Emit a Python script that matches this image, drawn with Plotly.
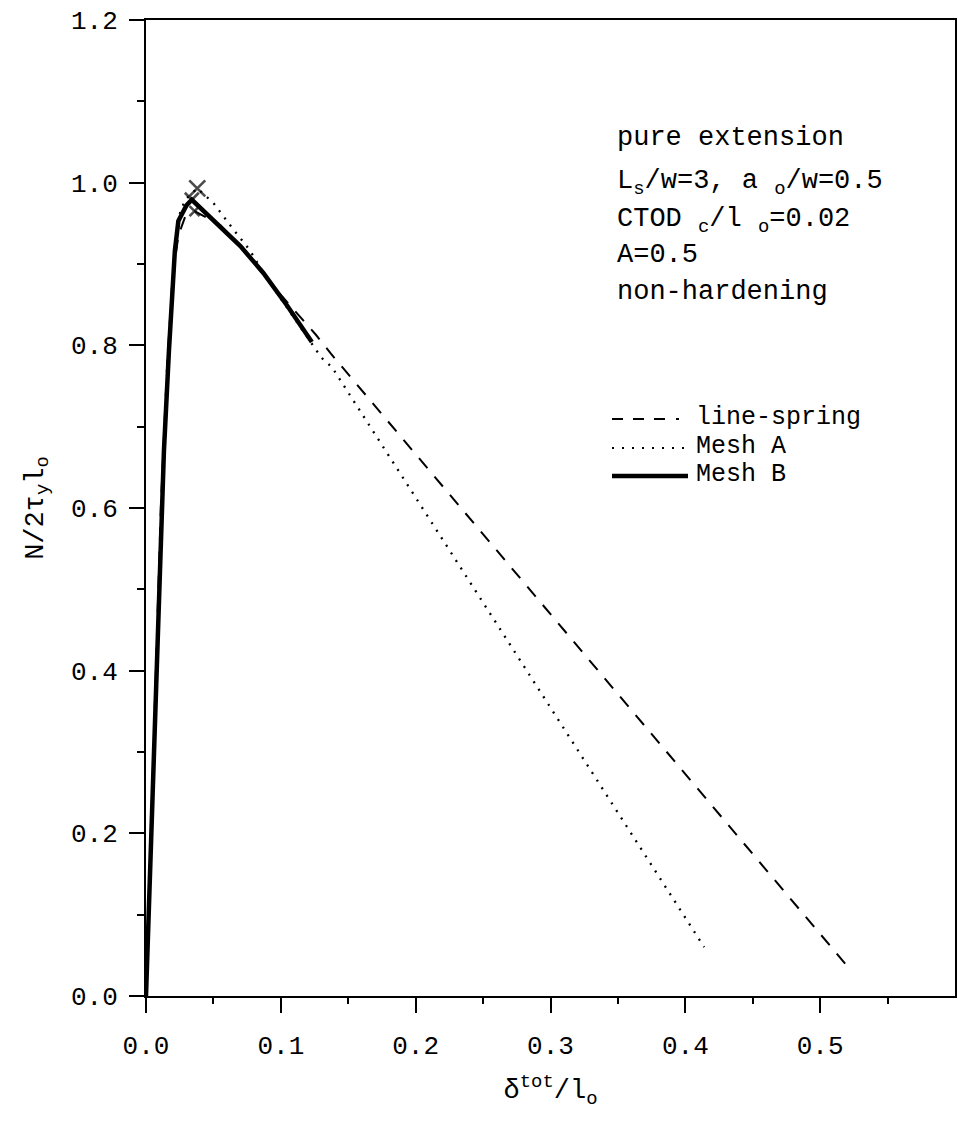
import plotly.graph_objects as go

# ---- data ----
ls_x = [0.0, 0.011, 0.0155, 0.0195, 0.024, 0.029, 0.036, 0.055, 0.080, 0.101, 0.126, 0.137, 0.521]
ls_y = [0.0, 0.60, 0.77, 0.88, 0.935, 0.958, 0.965, 0.948, 0.903, 0.860, 0.813, 0.790, 0.035]

ma_x = [0.0, 0.012, 0.017, 0.021, 0.024, 0.029, 0.038, 0.050, 0.065, 0.077, 0.089, 0.130, 0.138, 0.414]
ma_y = [0.0, 0.62, 0.80, 0.90, 0.957, 0.979, 0.993, 0.975, 0.942, 0.917, 0.884, 0.785, 0.773, 0.06]

mb_x = [0.0, 0.0074, 0.0133, 0.017, 0.0214, 0.024, 0.030, 0.034, 0.052, 0.070, 0.087, 0.105, 0.123]
mb_y = [0.0, 0.361, 0.67, 0.793, 0.916, 0.953, 0.972, 0.979, 0.951, 0.922, 0.889, 0.848, 0.804]

peak_x = [0.038, 0.034, 0.036]
peak_y = [0.993, 0.979, 0.965]
peak_size = [16, 14, 10]

x_ticks = [0.0, 0.1, 0.2, 0.3, 0.4, 0.5]
y_ticks = [0.0, 0.2, 0.4, 0.6, 0.8, 1.0, 1.2]

info_lines = [
    "pure extension",
    "L<sub>s</sub>/w=3, a <sub>o</sub>/w=0.5",
    "CTOD <sub>c</sub>/l <sub>o</sub>=0.02",
    "A=0.5",
    "non-hardening",
]
info_ypx = [138, 183, 221, 255, 292]

legend_names = ["line-spring", "Mesh A", "Mesh B"]
legend_ypx = [417, 446, 474]

FONT = "Liberation Mono, Courier New, monospace"

# plot area in pixels
L, R, T, B = 146, 955, 20, 996
W, H = 958, 1122


def px(xp):
    return (xp - L) / (R - L)


def py(yp):
    return (B - yp) / (B - T)


fig = go.Figure()
fig.add_trace(go.Scatter(x=ls_x, y=ls_y, mode="lines",
                         line=dict(color="black", width=2, dash="13px,11px"),
                         name="line-spring", showlegend=False))
fig.add_trace(go.Scatter(x=ma_x, y=ma_y, mode="lines",
                         line=dict(color="black", width=2.3, dash="2px,7px"),
                         name="Mesh A", showlegend=False))
fig.add_trace(go.Scatter(x=mb_x, y=mb_y, mode="lines",
                         line=dict(color="black", width=4.5),
                         name="Mesh B", showlegend=False))
fig.add_trace(go.Scatter(x=peak_x, y=peak_y, mode="markers",
                         marker=dict(symbol="x-thin", size=peak_size, color="black",
                                     line=dict(color="black", width=2.6)),
                         showlegend=False, hoverinfo="skip"))

annotations = []
for txt, yp in zip(info_lines, info_ypx):
    annotations.append(dict(text=txt, xref="paper", yref="paper", x=px(615), y=py(yp),
                            xanchor="left", yanchor="middle", showarrow=False,
                            font=dict(family=FONT, size=27, color="black")))

for name, yp in zip(legend_names, legend_ypx):
    annotations.append(dict(text=name, xref="paper", yref="paper", x=px(694), y=py(yp),
                            xanchor="left", yanchor="middle", showarrow=False,
                            font=dict(family=FONT, size=25, color="black")))

shapes = [
    dict(type="line", xref="paper", yref="paper", x0=px(612), x1=px(690),
         y0=py(legend_ypx[0] + 2), y1=py(legend_ypx[0] + 2),
         line=dict(color="black", width=2, dash="11px,10px,11px,10px,11px,11px,3px")),
    dict(type="line", xref="paper", yref="paper", x0=px(612), x1=px(688),
         y0=py(legend_ypx[1] + 2), y1=py(legend_ypx[1] + 2),
         line=dict(color="black", width=2, dash="2px,8px")),
    dict(type="line", xref="paper", yref="paper", x0=px(612), x1=px(688),
         y0=py(legend_ypx[2] + 2), y1=py(legend_ypx[2] + 2),
         line=dict(color="black", width=4.5)),
]

fig.update_layout(
    width=W, height=H,
    margin=dict(l=L, r=W - R, t=T, b=H - B, autoexpand=False),
    paper_bgcolor="white", plot_bgcolor="white",
    font=dict(family=FONT, size=26, color="black"),
    annotations=annotations, shapes=shapes,
    showlegend=False,
)

fig.update_xaxes(
    range=[0, 0.6], tickvals=x_ticks, ticktext=[f"{v:.1f}" for v in x_ticks],
    showgrid=False, zeroline=False,
    showline=True, linecolor="black", linewidth=2, mirror=True,
    ticks="outside", ticklen=15, tickwidth=2, tickcolor="black",
    ticklabelstandoff=10,
    minor=dict(tickvals=[0.05, 0.15, 0.25, 0.35, 0.45, 0.55], ticks="outside",
               ticklen=6, tickwidth=2, tickcolor="black"),
    tickfont=dict(family=FONT, size=26, color="black"),
    title=dict(text="δ<sup>tot</sup>/l<sub>o</sub>", standoff=18,
               font=dict(family=FONT, size=27, color="black")),
)
fig.update_yaxes(
    range=[0, 1.2], tickvals=y_ticks, ticktext=[f"{v:.1f}" for v in y_ticks],
    showgrid=False, zeroline=False,
    showline=True, linecolor="black", linewidth=2, mirror=True,
    ticks="outside", ticklen=15, tickwidth=2, tickcolor="black",
    ticklabelstandoff=6,
    minor=dict(tickvals=[0.1, 0.3, 0.5, 0.7, 0.9, 1.1], ticks="outside",
               ticklen=7, tickwidth=2, tickcolor="black"),
    tickfont=dict(family=FONT, size=26, color="black"),
    title=dict(text="N/2τ<sub>y</sub>l<sub>o</sub>", standoff=20,
               font=dict(family=FONT, size=27, color="black")),
)

fig.write_html("out.html")
